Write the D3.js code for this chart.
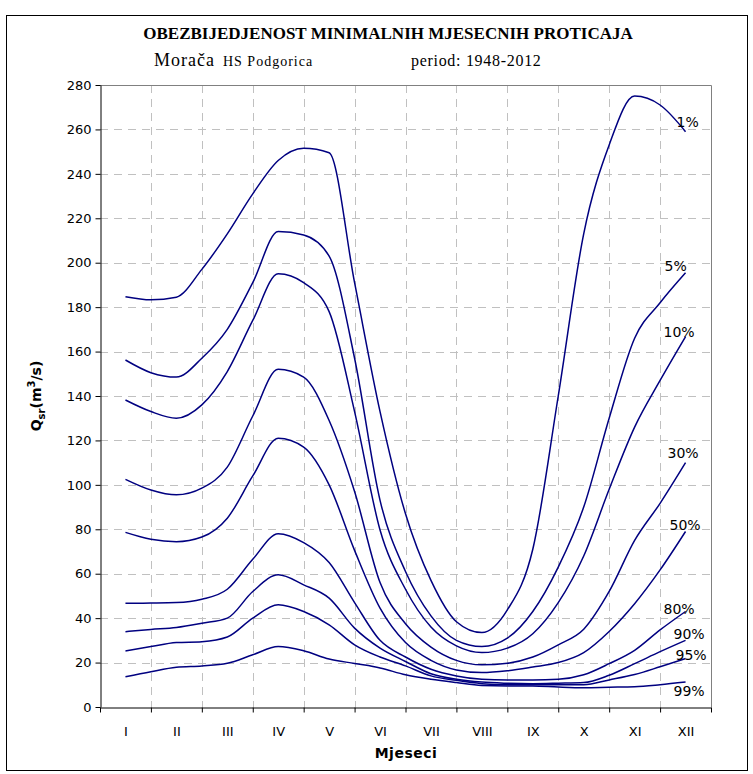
<!DOCTYPE html>
<html>
<head>
<meta charset="utf-8">
<script src="https://cdn.jsdelivr.net/npm/d3@7"></script>
<style>
  body { margin: 0; background: #fff; }
  svg { display: block; }
</style>
</head>
<body>
<div id="chart"></div>
<script>
// months on the category axis
const months = ["I", "II", "III", "IV", "V", "VI", "VII", "VIII", "IX", "X", "XI", "XII"];

// positions (in months) where values were read
const xPos = [1, 1.5, 2, 2.5, 3, 3.5, 4, 4.5, 5, 5.5, 6, 6.5, 7, 7.5, 8, 8.5, 9, 9.5, 10, 10.5, 11, 11.5, 12];

// probability curves, Q (m3/s)
const p1  = [184.7, 183.3, 184.5, 197, 213, 231, 246, 251.5, 249.5, 191, 133, 87, 57, 38.4, 33.5, 43.7, 71, 140, 213, 253, 275, 271, 259];
const p5  = [156.2, 150.5, 148.5, 157, 170, 191, 214, 212.5, 203, 157, 93, 61, 41, 30, 27.2, 31, 43, 63, 90, 130, 166, 182, 195.5];
const p10 = [138.2, 133, 130, 136, 151, 174, 195, 191, 178, 133, 79.7, 53, 36, 27.5, 24.5, 26.5, 33, 47, 68, 98, 126, 147, 166.7];
const p30 = [102.5, 97.7, 95.5, 98.5, 108, 131, 152, 148.5, 129, 97, 56, 37.5, 27, 21, 19, 19.7, 22.5, 28, 35, 52, 75, 91.7, 110];
const p50 = [78.6, 75.5, 74.4, 76.5, 85, 104, 121, 117, 100, 70.5, 44.5, 29, 21, 16.7, 15.5, 16.3, 18, 20, 24.5, 34, 46.5, 61.7, 79];
const p80 = [46.7, 46.8, 47, 48.5, 53, 66.5, 78, 74, 65, 47, 30, 22.5, 17, 14, 12.5, 12.2, 12.2, 12.5, 14.5, 19.5, 25.5, 34.7, 43];
const p90 = [33.9, 34.9, 35.8, 37.7, 40, 52, 59.5, 55, 49, 35.5, 26.5, 20.5, 15, 12.5, 11.2, 10.7, 10.5, 10.7, 11, 14.3, 19.5, 24.9, 30];
const p95 = [25.2, 27.2, 29, 29.4, 31.5, 40, 46, 43, 37, 28, 22.5, 18.5, 14, 12, 10.5, 10, 10, 10, 10, 12.2, 14.6, 18.1, 21.8];
const p99 = [13.6, 15.9, 17.9, 18.5, 19.7, 23.5, 27.2, 25.3, 21.6, 19.6, 17.6, 14.5, 12.5, 11, 9.7, 9.5, 9.5, 9, 8.7, 8.9, 9.1, 10, 11.2];

const seriesNames = ["1%", "5%", "10%", "30%", "50%", "80%", "90%", "95%", "99%"];
const seriesValues = [p1, p5, p10, p30, p50, p80, p90, p95, p99];

const yTicks = [0, 20, 40, 60, 80, 100, 120, 140, 160, 180, 200, 220, 240, 260, 280];

// label nudges relative to the end of each line (styling only)
const labelNudge = [[-9, -5], [-21, -2], [-22, 0], [-18, -5], [-16, -2], [-22, 3], [-12, -1], [-10, 1], [-12, 14]];

const width = 753;
const height = 774;
const margin = { top: 85, right: 42, bottom: 67, left: 100 };
const lineColor = "#000080";
const serif = "'Liberation Serif', 'Times New Roman', serif";
const sans = "'DejaVu Sans', sans-serif";

const svg = d3.select("#chart")
  .append("svg")
  .attr("width", width)
  .attr("height", height);

// outer frame
svg.append("rect")
  .attr("x", 6.5).attr("y", 15.5)
  .attr("width", 741).attr("height", 755)
  .attr("fill", "#fff")
  .attr("stroke", "#000")
  .attr("stroke-width", 1);

// Title
svg.append("text")
  .attr("x", 388)
  .attr("y", 39)
  .attr("text-anchor", "middle")
  .style("font-family", serif)
  .style("font-weight", "bold")
  .style("font-size", "17px")
  .text("OBEZBIJEDJENOST MINIMALNIH MJESECNIH PROTICAJA");

const sub = svg.append("text")
  .attr("x", 154)
  .attr("y", 66)
  .style("font-family", serif);
sub.append("tspan").style("font-size", "18px").style("letter-spacing", "1px").text("Morača");
sub.append("tspan").attr("dx", 8).style("font-size", "14px").style("letter-spacing", "1px").text("HS Podgorica");

svg.append("text")
  .attr("x", 411)
  .attr("y", 66)
  .style("font-family", serif)
  .style("font-size", "16px")
  .style("letter-spacing", "0.7px")
  .text("period: 1948-2012");

// Scales
const x = d3.scaleLinear()
  .domain([0.5, 12.5])
  .range([margin.left, width - margin.right]);

const y = d3.scaleLinear()
  .domain([0, 280])
  .range([height - margin.bottom, margin.top]);

const x0 = x.range()[0], x1 = x.range()[1];
const y0 = y.range()[0], y1 = y.range()[1];

// Grid
const grid = svg.append("g")
  .attr("stroke", "#c0c0c0")
  .attr("stroke-width", 1)
  .attr("stroke-dasharray", "8,6");

grid.selectAll("line.h")
  .data(yTicks.filter(d => d > 0 && d < 280))
  .join("line")
  .attr("class", "h")
  .attr("x1", x0).attr("x2", x1)
  .attr("y1", d => Math.round(y(d)) + 0.5)
  .attr("y2", d => Math.round(y(d)) + 0.5);

grid.selectAll("line.v")
  .data(d3.range(1, 12).map(i => i + 0.5))
  .join("line")
  .attr("class", "v")
  .attr("y1", y1).attr("y2", y0)
  .attr("x1", d => Math.round(x(d)) + 0.5)
  .attr("x2", d => Math.round(x(d)) + 0.5);

// top and right border of the plot area
svg.append("path")
  .attr("d", `M${x0},${y1 + 0.5}H${x1 + 0.5}V${y0}`)
  .attr("fill", "none")
  .attr("stroke", "#808080")
  .attr("stroke-width", 1);

// Axes
const yAxis = svg.append("g")
  .attr("transform", `translate(${x0 + 0.5},0)`)
  .call(d3.axisLeft(y).tickValues(yTicks).tickSize(5).tickSizeOuter(0).tickPadding(4));

const xTicks = svg.append("g")
  .attr("transform", `translate(0,${y0 + 0.5})`)
  .call(d3.axisBottom(x).tickValues(d3.range(0, 13).map(i => i + 0.5)).tickSize(5).tickSizeOuter(0).tickFormat(""));

const xLabels = svg.append("g")
  .attr("transform", `translate(0,${y0 + 0.5})`)
  .call(d3.axisBottom(x).tickValues(d3.range(1, 13)).tickSize(0).tickPadding(19).tickFormat(d => months[d - 1]));
xLabels.select(".domain").remove();

[yAxis, xTicks, xLabels].forEach(g => {
  g.selectAll("text")
    .style("font-family", sans)
    .style("font-size", "13px")
    .attr("fill", "#000");
  g.selectAll("line, path").attr("stroke", "#000");
});

// Lines
const line = d3.line()
  .x((d, i) => x(xPos[i]))
  .y(d => y(d))
  .curve(d3.curveMonotoneX);

svg.append("g")
  .selectAll("path")
  .data(seriesValues)
  .join("path")
  .attr("d", d => line(d))
  .attr("fill", "none")
  .attr("stroke", lineColor)
  .attr("stroke-width", 1.5);

// Series labels near line ends
svg.append("g")
  .selectAll("text")
  .data(seriesValues)
  .join("text")
  .attr("x", (d, i) => x(xPos[xPos.length - 1]) + labelNudge[i][0])
  .attr("y", (d, i) => y(d[d.length - 1]) + labelNudge[i][1])
  .style("font-family", sans)
  .style("font-size", "14px")
  .attr("fill", "#000")
  .text((d, i) => seriesNames[i]);

// X-axis label
svg.append("text")
  .attr("x", 406)
  .attr("y", 758)
  .attr("text-anchor", "middle")
  .style("font-family", sans)
  .style("font-weight", "bold")
  .style("font-size", "14px")
  .style("letter-spacing", "0.5px")
  .text("Mjeseci");

// Y-axis label
const yLab = svg.append("text")
  .attr("transform", `translate(41,${(y0 + y1) / 2}) rotate(-90)`)
  .attr("text-anchor", "middle")
  .style("font-family", sans)
  .style("font-weight", "bold")
  .style("font-size", "14px");
yLab.append("tspan").text("Q");
yLab.append("tspan").attr("dy", 4).style("font-size", "10px").text("sr");
yLab.append("tspan").attr("dy", -4).text("(m");
yLab.append("tspan").attr("dy", -6).style("font-size", "10px").text("3");
yLab.append("tspan").attr("dy", 6).text("/s)");
</script>
</body>
</html>
